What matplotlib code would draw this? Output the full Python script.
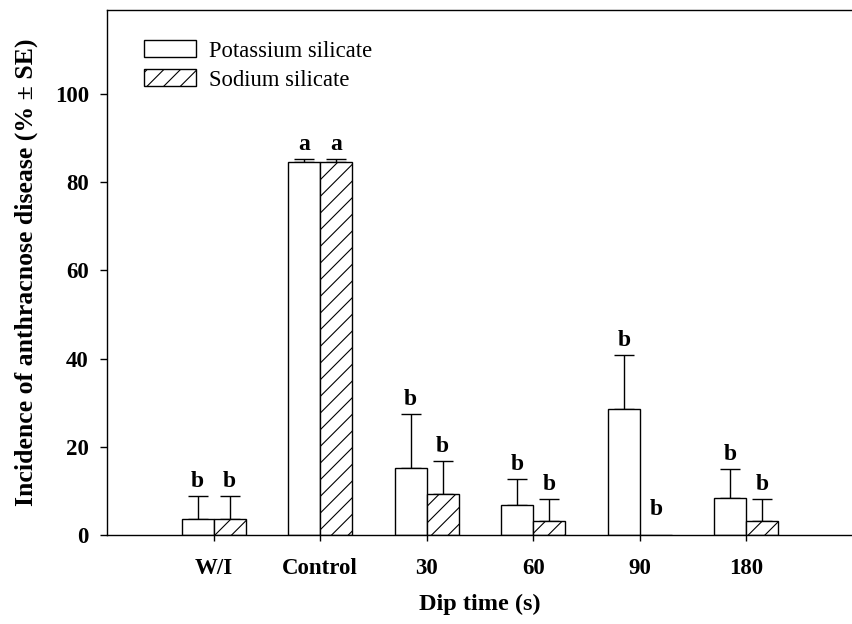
import matplotlib
matplotlib.use('Agg')
import matplotlib.pyplot as plt
import numpy as np

# dados
categories = ['W/I', 'Control', '30', '60', '90', '180']
potassium = [3.6, 84.5, 15.1, 6.8, 28.6, 8.4]
potassium_se = [5.2, 0.8, 12.3, 5.8, 12.2, 6.6]
sodium = [3.6, 84.5, 9.4, 3.2, 0.0, 3.2]
sodium_se = [5.2, 0.8, 7.3, 4.9, 0.0, 4.9]
potassium_letters = ['b', 'a', 'b', 'b', 'b', 'b']
sodium_letters = ['b', 'a', 'b', 'b', 'b', 'b']

plt.rcParams['font.family'] = ['Liberation Serif', 'DejaVu Serif']
plt.rcParams['hatch.linewidth'] = 0.8

fig = plt.figure(figsize=(8.53, 6.24), dpi=100)
ax = fig.add_axes([0.1254, 0.1426, 0.8746, 0.8414])

x = np.arange(1, len(categories) + 1)
w = 0.3

ax.bar(x - w / 2, potassium, w, color='white', edgecolor='black', linewidth=1,
       label='Potassium silicate', zorder=2)
ax.bar(x + w / 2, sodium, w, color='white', edgecolor='black', linewidth=1,
       hatch='//', label='Sodium silicate', zorder=2)

ax.errorbar(x - w / 2, potassium, yerr=[np.zeros(len(x)), potassium_se], fmt='none',
            ecolor='black', elinewidth=1, capsize=7, capthick=1, zorder=1)
sod_x = [xi + w / 2 for xi, s in zip(x, sodium_se) if s > 0]
sod_y = [v for v, s in zip(sodium, sodium_se) if s > 0]
sod_e = [s for s in sodium_se if s > 0]
ax.errorbar(sod_x, sod_y, yerr=[np.zeros(len(sod_e)), sod_e], fmt='none',
            ecolor='black', elinewidth=1, capsize=7, capthick=1, zorder=1)

for xi, v, e, t in zip(x, potassium, potassium_se, potassium_letters):
    ax.text(xi - w / 2, v + e + 0.9, t, ha='center', va='bottom',
            fontsize=17, fontweight='bold')
for xi, v, e, t in zip(x, sodium, sodium_se, sodium_letters):
    top = v + e if e > 0 else 2.4
    ax.text(xi + w / 2, top + 0.9, t, ha='center', va='bottom',
            fontsize=17, fontweight='bold')

ax.set_xlim(0, 7)
ax.set_ylim(0, 119)
ax.set_xticks(x)
ax.set_xticklabels(categories, fontsize=16.5, fontweight='bold')
ax.set_yticks([0, 20, 40, 60, 80, 100])
ax.set_yticklabels(['0', '20', '40', '60', '80', '100'], fontsize=16.5, fontweight='bold')
ax.tick_params(axis='y', direction='out', length=5, width=1, pad=8)
ax.tick_params(axis='x', direction='out', length=4.5, width=1, pad=12)

ax.spines['right'].set_visible(False)
for s in ['left', 'bottom', 'top']:
    ax.spines[s].set_linewidth(1)

ax.set_xlabel('Dip time (s)', fontsize=17.5, fontweight='bold', labelpad=11)
ax.set_ylabel('Incidence of anthracnose disease (% \u00b1 SE)', fontsize=18.5,
              fontweight='bold', labelpad=12)

ax.legend(loc='upper left', bbox_to_anchor=(0.022, 0.981), frameon=False,
          fontsize=16.3, handlelength=2.3, handleheight=0.75, labelspacing=0.35,
          handletextpad=0.6)

fig.savefig('out.png', dpi=100)
